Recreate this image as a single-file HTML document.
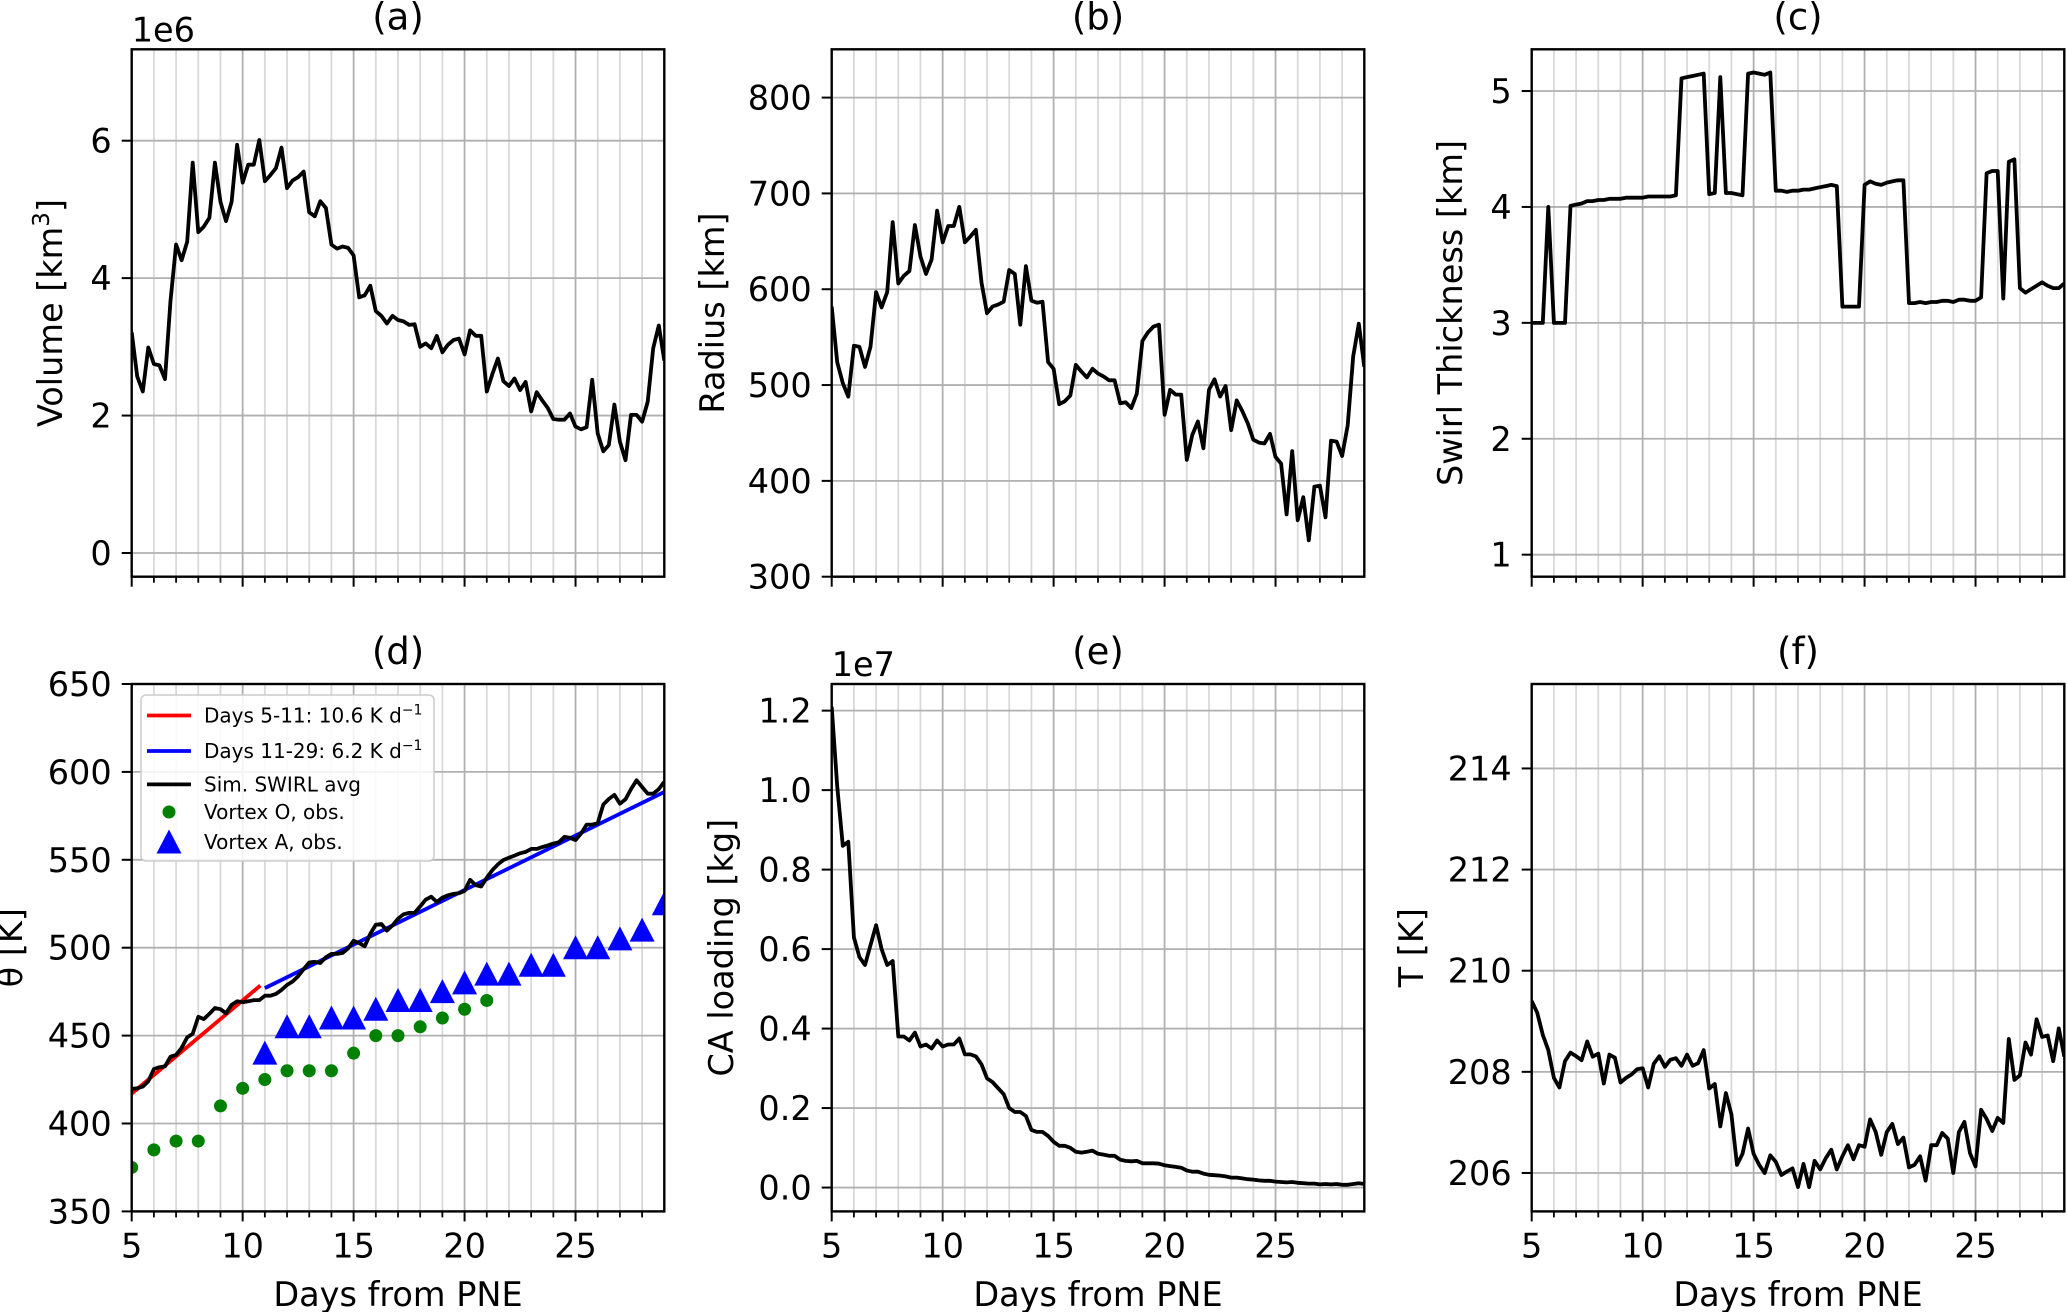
<!DOCTYPE html>
<html><head><meta charset="utf-8">
<style>
html,body{margin:0;padding:0;background:#fff;}
svg{display:block;font-family:"DejaVu Sans","Liberation Sans",sans-serif;}
</style></head>
<body>
<svg id="fig" xmlns="http://www.w3.org/2000/svg" width="2067" height="1312" viewBox="0 0 2067 1312"></svg>
<script>
// ---- data (days from PNE, 6-hourly) ----
const days = Array.from({length:97},(_,i)=>5+i*0.25);
const volume = [3.21,2.57,2.35,2.99,2.75,2.73,2.53,3.67,4.49,4.26,4.53,5.68,4.67,4.75,4.88,5.68,5.11,4.83,5.11,5.94,5.39,5.65,5.65,6.01,5.41,5.5,5.6,5.9,5.31,5.42,5.47,5.55,4.96,4.9,5.12,5.02,4.49,4.43,4.46,4.44,4.33,3.72,3.75,3.89,3.52,3.45,3.34,3.45,3.39,3.37,3.32,3.33,3.0,3.05,2.98,3.16,2.92,3.03,3.1,3.12,2.89,3.24,3.16,3.16,2.35,2.6,2.83,2.5,2.43,2.54,2.37,2.49,2.06,2.34,2.22,2.11,1.95,1.94,1.94,2.03,1.84,1.8,1.83,2.52,1.74,1.48,1.57,2.16,1.62,1.35,2.01,2.01,1.91,2.2,2.98,3.31,2.8];
const radius = [582,524,502,488,541,540,519,540,597,581,597,670,606,614,619,667,634,616,631,682,649,666,666,686,649,655,662,607,575,582,584,587,620,616,563,624,588,586,587,524,517,480,483,489,521,514,508,517,512,509,505,505,481,482,476,491,546,555,561,563,469,495,490,490,422,448,462,434,495,506,488,499,453,484,473,460,443,440,439,449,425,418,365,431,359,383,338,394,395,362,442,441,426,458,530,564,519];
const thickness = [3.0,3.0,3.0,4.0,3.0,3.0,3.0,4.01,4.02,4.03,4.05,4.05,4.06,4.06,4.07,4.07,4.07,4.08,4.08,4.08,4.08,4.09,4.09,4.09,4.09,4.09,4.1,5.11,5.12,5.13,5.14,5.15,4.11,4.12,5.12,4.12,4.12,4.11,4.1,5.15,5.16,5.15,5.14,5.16,4.14,4.14,4.13,4.14,4.14,4.15,4.15,4.16,4.17,4.18,4.19,4.18,3.14,3.14,3.14,3.14,4.19,4.22,4.2,4.19,4.21,4.22,4.23,4.23,3.17,3.17,3.18,3.17,3.18,3.18,3.19,3.19,3.18,3.2,3.2,3.19,3.19,3.22,4.29,4.31,4.31,3.21,4.39,4.41,3.3,3.26,3.29,3.32,3.35,3.32,3.3,3.3,3.34];
const theta = [419.7,420,421,424,431,432,432.5,438,439,443,449,451,460.7,459.4,462.4,465.7,465,462.7,467.5,469.5,469,469.5,470.2,470.2,472.7,472.7,473.7,476,478.8,480.8,483.8,487.8,491.6,492,491.3,494.6,496.5,496.5,497,499.6,504,502.6,500.8,507.9,513,513.5,509.7,512.7,516.5,519,519.8,519.8,523.5,527.3,529,526,528.5,529.8,530.6,531,532.3,538.6,535.6,534.8,539.9,544.1,547.4,549.9,551.2,552.4,553.7,554.5,556.2,556.2,557.2,558.2,559.2,560,563,562.5,561.2,565,570,570,570.8,581.4,584.6,586.9,581.9,584.4,590.2,595.2,591.4,587.6,587.6,590.2,594.4];
const caLoading = [1.21,1.01,0.86,0.87,0.63,0.58,0.56,0.61,0.66,0.6,0.56,0.57,0.38,0.38,0.37,0.39,0.355,0.36,0.35,0.37,0.355,0.36,0.36,0.375,0.335,0.335,0.33,0.31,0.275,0.265,0.25,0.235,0.2,0.19,0.19,0.18,0.145,0.14,0.14,0.13,0.115,0.105,0.105,0.1,0.09,0.088,0.09,0.093,0.085,0.083,0.08,0.08,0.07,0.067,0.066,0.067,0.061,0.061,0.061,0.06,0.056,0.054,0.052,0.05,0.043,0.04,0.04,0.035,0.032,0.031,0.03,0.028,0.025,0.025,0.023,0.021,0.02,0.018,0.017,0.017,0.015,0.014,0.013,0.014,0.012,0.011,0.01,0.01,0.008,0.009,0.008,0.009,0.007,0.007,0.009,0.011,0.009];
const temperature = [209.4,209.17,208.73,208.43,207.88,207.69,208.21,208.38,208.31,208.23,208.6,208.3,208.36,207.77,208.34,208.28,207.79,207.88,207.95,208.05,208.07,207.69,208.16,208.31,208.1,208.24,208.27,208.12,208.34,208.12,208.17,208.43,207.67,207.76,206.92,207.58,207.16,206.16,206.38,206.88,206.38,206.16,206.0,206.35,206.22,205.96,206.03,206.09,205.72,206.18,205.72,206.24,206.07,206.29,206.46,206.07,206.33,206.55,206.27,206.55,206.52,207.06,206.81,206.36,206.81,206.97,206.57,206.7,206.11,206.16,206.33,205.85,206.55,206.55,206.79,206.68,206.0,206.81,207.01,206.39,206.13,207.25,207.07,206.83,207.09,206.99,208.65,207.84,207.93,208.58,208.34,209.04,208.69,208.72,208.21,208.86,208.3];
const redFitDays = [5,10.8];
const redFitVals = [417,478.5];
const blueFitDays = [11,29];
const blueFitVals = [477,588.6];
const vortexODays = [5,6,7,8,9,10,11,12,13,14,15,16,17,18,19,20,21];
const vortexOVals = [375,385,390,390,410,420,425,430,430,430,440,450,450,455,460,465,470];
const vortexADays = [11,12,13,14,15,16,17,18,19,20,21,22,23,24,25,26,27,28,29];
const vortexAVals = [440,455,455,460,460,465,470,470,475,480,485,485,490,490,500,500,505,510,525];
const xTicks = [5,10,15,20,25];
const xTickLabels = ["5","10","15","20","25"];

const NS="http://www.w3.org/2000/svg";
const svg=document.getElementById('fig');
function mk(tag,attrs,parent){const e=document.createElementNS(NS,tag);for(const k in attrs)e.setAttribute(k,attrs[k]);(parent||svg).appendChild(e);return e;}

const FS=33.5, TFS=37;
const colL=[131.7,831.7,1531.7], W=532.6, rowT=[49.3,684], H=527.4;
const panels=[
 {id:'a',col:0,row:0,ymin:-0.345,ymax:7.33,ticks:[0,2,4,6],labels:["0","2","4","6"],ylabel:'Volume [km³]',ylx:50,series:volume,offset:'1e6'},
 {id:'b',col:1,row:0,ymin:300,ymax:850.4,ticks:[300,400,500,600,700,800],labels:["300","400","500","600","700","800"],ylabel:'Radius [km]',ylx:712,series:radius},
 {id:'c',col:2,row:0,ymin:0.81,ymax:5.36,ticks:[1,2,3,4,5],labels:["1","2","3","4","5"],ylabel:'Swirl Thickness [km]',ylx:1450,series:thickness},
 {id:'d',col:0,row:1,ymin:350,ymax:650,ticks:[350,400,450,500,550,600,650],labels:["350","400","450","500","550","600","650"],ylabel:'θ [K]',ylx:10,series:theta},
 {id:'e',col:1,row:1,ymin:-0.06,ymax:1.267,ticks:[0,0.2,0.4,0.6,0.8,1.0,1.2],labels:["0.0","0.2","0.4","0.6","0.8","1.0","1.2"],ylabel:'CA loading [kg]',ylx:721,series:caLoading,offset:'1e7'},
 {id:'f',col:2,row:1,ymin:205.24,ymax:215.67,ticks:[206,208,210,212,214],labels:["206","208","210","212","214"],ylabel:'T [K]',ylx:1411,series:temperature}
];

panels.forEach(p=>{
 const L=colL[p.col],T=rowT[p.row],R=L+W,B=T+H;
 const sx=d=>L+(d-5)/(29-5)*W;
 const sy=v=>B-(v-p.ymin)/(p.ymax-p.ymin)*H;
 const g=mk('g',{});
 
 
 const cp=mk('clipPath',{id:'clip'+p.id},g);
 mk('rect',{x:L,y:T,width:W,height:H},cp);
 for(let d=6;d<29;d++){ if(d%5===0)continue;
  const ln=mk('line',{x1:sx(d),x2:sx(d),y1:T,y2:B,stroke:'#d9d9d9','stroke-width':1.8},g);
  
  
  const tk=mk('line',{x1:sx(d),x2:sx(d),y1:B,y2:B+6,stroke:'#000','stroke-width':1.8},g);
  
  
 }
 xTicks.forEach((d,i)=>{
  const ln=mk('line',{x1:sx(d),x2:sx(d),y1:T,y2:B,stroke:'#b0b0b0','stroke-width':1.8},g);
  
  
  const tk=mk('line',{x1:sx(d),x2:sx(d),y1:B,y2:B+10,stroke:'#000','stroke-width':2},g);
  
  
  if(p.row===1){
   const t=mk('text',{x:sx(d),y:B+46,'font-size':FS,'text-anchor':'middle'},g);
   t.textContent=xTickLabels[i];
   
   
  }
 });
 p.ticks.forEach((v,i)=>{
  const y=sy(v);
  const ln=mk('line',{x1:L,x2:R,y1:y,y2:y,stroke:'#b0b0b0','stroke-width':1.8},g);
  
  
  const tk=mk('line',{x1:L-10,x2:L,y1:y,y2:y,stroke:'#000','stroke-width':2},g);
  
  
  const t=mk('text',{x:L-20,y:y+12,'font-size':FS,'text-anchor':'end'},g);
  t.textContent=p.labels[i];
  
  
 });
 if(p.id==='d'){
  const rl=mk('line',{x1:sx(redFitDays[0]),y1:sy(redFitVals[0]),x2:sx(redFitDays[1]),y2:sy(redFitVals[1]),stroke:'#ff0000','stroke-width':3.8,'clip-path':'url(#clipd)'},g);
  
  
  const bl=mk('line',{x1:sx(blueFitDays[0]),y1:sy(blueFitVals[0]),x2:sx(blueFitDays[1]),y2:sy(blueFitVals[1]),stroke:'#0000ff','stroke-width':3.8,'clip-path':'url(#clipd)'},g);
  
  
 }
 const pts=p.series.map((v,i)=>sx(days[i]).toFixed(1)+','+sy(v).toFixed(1)).join(' ');
 const pl=mk('polyline',{points:pts,fill:'none',stroke:'#000','stroke-width':3.8,'stroke-linejoin':'round','clip-path':'url(#clip'+p.id+')'},g);
 
 
 if(p.id==='d'){
  const mg=mk('g',{'clip-path':'url(#clipd)'},g);
  vortexODays.forEach((d,i)=>{
   const c=mk('circle',{cx:sx(d),cy:sy(vortexOVals[i]),r:6.5,fill:'#008000'},mg);
   
   
  });
  vortexADays.forEach((d,i)=>{
   const x=sx(d),y=sy(vortexAVals[i]);
   const tr=mk('polygon',{points:`${x},${y-12.5} ${x-12.5},${y+11.5} ${x+12.5},${y+11.5}`,fill:'#0000ff'},mg);
   
   
  });
 }
 const fr=mk('rect',{x:L,y:T,width:W,height:H,fill:'none',stroke:'#000','stroke-width':2.4},g);
 
 
 const tt=mk('text',{x:L+W/2,y:T-20,'font-size':TFS,'text-anchor':'middle'},g);
 tt.textContent='('+p.id+')';
 
 
 const yl=mk('text',{x:0,y:0,'font-size':FS,'text-anchor':'middle',transform:`translate(${p.ylx+12},${T+H/2}) rotate(-90)`},g);
 if(p.id==='a'){ yl.innerHTML='Volume [km<tspan dy="-13" font-size="23">3</tspan><tspan dy="13">]</tspan>'; }
 else yl.textContent=p.ylabel;
 
 
 if(p.offset){
  const ot=mk('text',{x:L,y:T-8,'font-size':FS},g);
  ot.textContent=p.offset;
  
  
 }
 if(p.row===1){
  const xl=mk('text',{x:L+W/2,y:1306,'font-size':FS,'text-anchor':'middle'},g);
  xl.textContent='Days from PNE';
  
  
 }
});

const lg=mk('g',{});


mk('rect',{x:141,y:695,width:293,height:166,rx:5,fill:'#fff','fill-opacity':0.85,stroke:'#cccccc','stroke-width':1.5},lg);
const legendItems=[
 {y:715.5,type:'line',color:'#ff0000',html:'Days 5-11: 10.6 K d<tspan dy="-8" font-size="14">−1</tspan>',name:'legend-entry-red'},
 {y:751,type:'line',color:'#0000ff',html:'Days 11-29: 6.2 K d<tspan dy="-8" font-size="14">−1</tspan>',name:'legend-entry-blue'},
 {y:784.4,type:'line',color:'#000',html:'Sim. SWIRL avg',name:'legend-entry-sim'},
 {y:812,type:'dot',color:'#008000',html:'Vortex O, obs.',name:'legend-entry-vortex-o'},
 {y:842,type:'tri',color:'#0000ff',html:'Vortex A, obs.',name:'legend-entry-vortex-a'}
];
legendItems.forEach(it=>{
 const eg=mk('g',{},lg);
 
 
 if(it.type==='line') mk('line',{x1:147,x2:191,y1:it.y,y2:it.y,stroke:it.color,'stroke-width':3.8},eg);
 else if(it.type==='dot') mk('circle',{cx:169,cy:it.y,r:6.5,fill:it.color},eg);
 else mk('polygon',{points:`169,${it.y-12.5} 156.5,${it.y+11.5} 181.5,${it.y+11.5}`,fill:it.color},eg);
 const t=mk('text',{x:204,y:it.y+7,'font-size':20},eg);
 t.innerHTML=it.html;
});
</script>
</body></html>
